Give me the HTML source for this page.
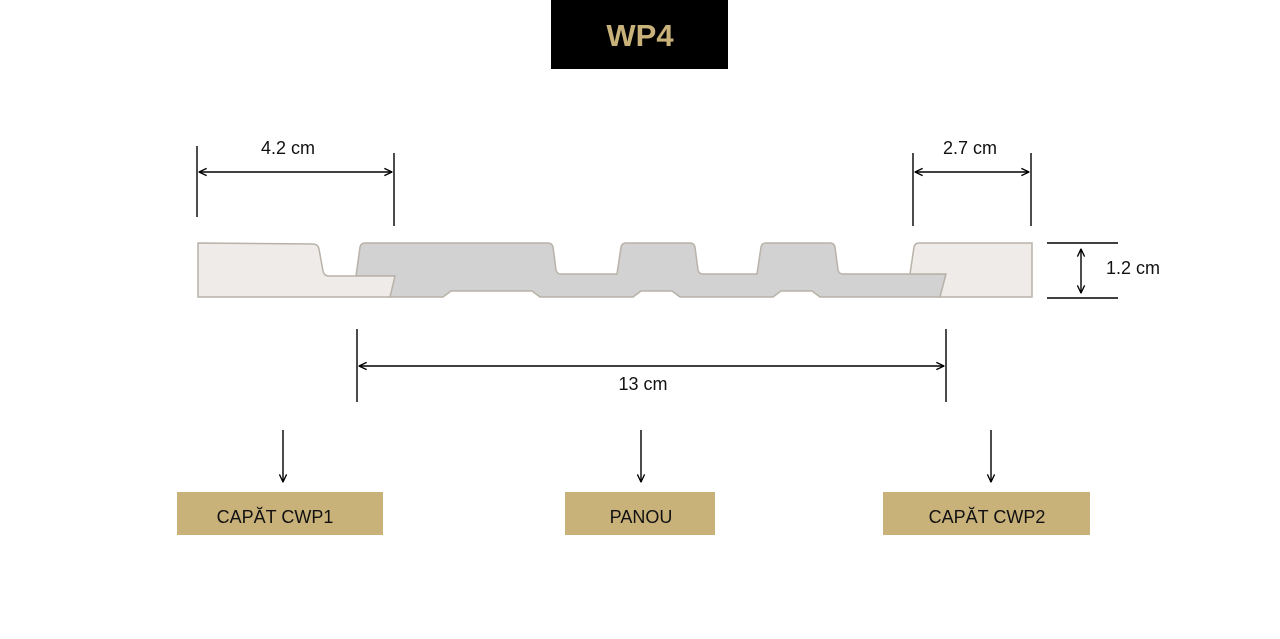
<!DOCTYPE html>
<html><head><meta charset="utf-8"><style>
html,body{margin:0;padding:0;background:#fff;}
body{width:1280px;height:639px;overflow:hidden;position:relative;font-family:"Liberation Sans",sans-serif;}
</style></head><body>
<svg width="1280" height="639" viewBox="0 0 1280 639" xmlns="http://www.w3.org/2000/svg" style="position:absolute;left:0;top:0">
<defs>
<marker id="a" viewBox="0 0 10 10" refX="9.5" refY="5" markerWidth="9" markerHeight="9" orient="auto-start-reverse" markerUnits="userSpaceOnUse"><path d="M1,1 L9.5,5 L1,9" fill="none" stroke="#000" stroke-width="1.5"/></marker>
</defs>
<rect x="551" y="0" width="177" height="69" fill="#000"/>
<text x="640" y="46" text-anchor="middle" font-size="31" font-weight="bold" fill="#c9b27a" font-family="Liberation Sans, sans-serif">WP4</text>

<path d="M356,276 L360,247 Q361,243 365,243 L548,243 Q552,243 553,247 L556,270 Q557,274 561,274 L617,274 L621,247 Q622,243 626,243 L690,243 Q694,243 695,247 L698,270 Q699,274 703,274 L757,274 L761,247 Q762,243 766,243 L830,243 Q834,243 835,247 L838,270 Q839,274 843,274 L946,274 L940,297 L820,297 L812,291 L781,291 L773,297 L680,297 L672,291 L641,291 L633,297 L540,297 L532,291 L451,291 L443,297 L390,297 L394,276 Z" fill="#d2d2d2" stroke="#b8b2a8" stroke-width="1.5"/>
<path d="M198,243 L313,244 Q318,244 319,249 L323,271 Q324,276 329,276 L395,276 L390,297 L198,297 Z" fill="#eeebe8" stroke="#b8b2a8" stroke-width="1.5"/>
<path d="M910,274 L914,247 Q915,243 919,243 L1032,243 L1032,297 L940,297 L946,274 Z" fill="#eeebe8" stroke="#b8b2a8" stroke-width="1.5"/>

<g stroke="#000" stroke-width="1.4" fill="none">
<line x1="197" y1="146" x2="197" y2="217"/>
<line x1="394" y1="153" x2="394" y2="226"/>
<line x1="199" y1="172" x2="392" y2="172" marker-start="url(#a)" marker-end="url(#a)"/>
<line x1="913" y1="153" x2="913" y2="226"/>
<line x1="1031" y1="153" x2="1031" y2="226"/>
<line x1="915" y1="172" x2="1029" y2="172" marker-start="url(#a)" marker-end="url(#a)"/>
<line x1="1047" y1="243" x2="1118" y2="243"/>
<line x1="1047" y1="298" x2="1118" y2="298"/>
<line x1="1081" y1="249" x2="1081" y2="293" marker-start="url(#a)" marker-end="url(#a)"/>
<line x1="357" y1="329" x2="357" y2="402"/>
<line x1="946" y1="329" x2="946" y2="402"/>
<line x1="359" y1="366" x2="944" y2="366" marker-start="url(#a)" marker-end="url(#a)"/>
<line x1="283" y1="430" x2="283" y2="482" marker-end="url(#a)"/>
<line x1="641" y1="430" x2="641" y2="482" marker-end="url(#a)"/>
<line x1="991" y1="430" x2="991" y2="482" marker-end="url(#a)"/>
</g>
<g font-size="18" fill="#111" font-family="Liberation Sans, sans-serif">
<text x="288" y="154" text-anchor="middle">4.2 cm</text>
<text x="970" y="154" text-anchor="middle">2.7 cm</text>
<text x="1106" y="274">1.2 cm</text>
<text x="643" y="390" text-anchor="middle">13 cm</text>
</g>
<rect x="177" y="492" width="206" height="43" fill="#c9b27a"/>
<rect x="565" y="492" width="150" height="43" fill="#c9b27a"/>
<rect x="883" y="492" width="207" height="43" fill="#c9b27a"/>
<g font-size="18" fill="#111" text-anchor="middle" font-family="Liberation Sans, sans-serif">
<text x="275" y="523">CAPĂT CWP1</text>
<text x="641" y="523">PANOU</text>
<text x="987" y="523">CAPĂT CWP2</text>
</g>
</svg>
</body></html>
